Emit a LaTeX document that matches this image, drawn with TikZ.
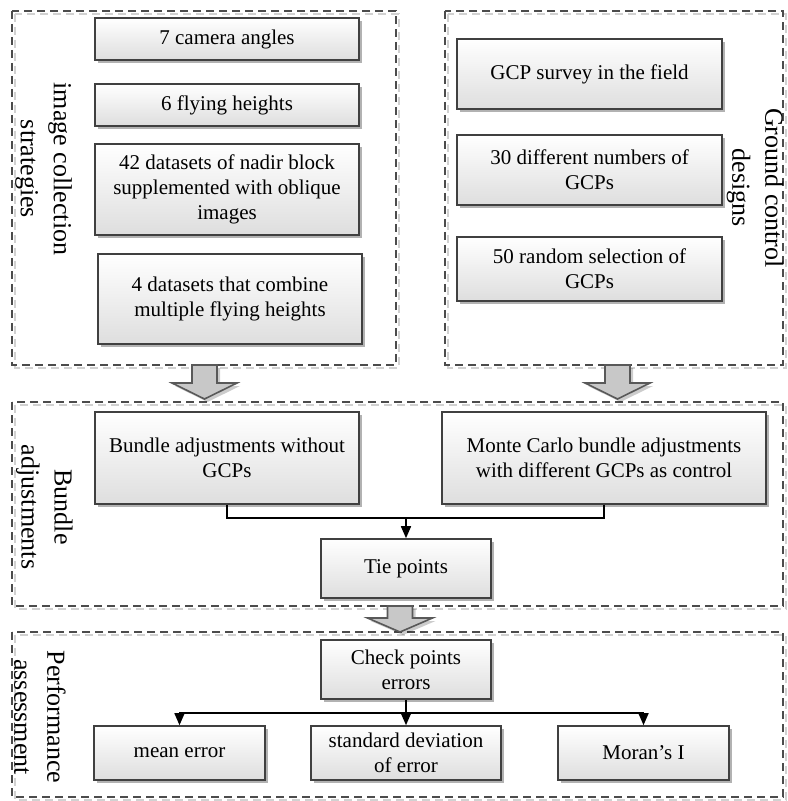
\documentclass[tikz,border=0pt]{standalone}
\usepackage{fontspec}
\setmainfont{Liberation Serif}
\usepackage{tikz}
\usetikzlibrary{arrows.meta,shadows}
\colorlet{boxedge}{black!75}
\colorlet{boxbottom}{black!13}
\colorlet{groupedge}{black!70}
\colorlet{groupghost}{black!18}
\definecolor{arrowfill}{RGB}{200,200,200}
\colorlet{arrowedge}{black!65}
\tikzset{
  flowbox/.style={draw=boxedge,line width=0.8pt,top color=white,bottom color=boxbottom,
    drop shadow={shadow xshift=1.5pt,shadow yshift=-1.5pt,fill=black,opacity=0.3},
    align=center,inner sep=0pt,font=\fontsize{10.5}{12.5}\selectfont},
  groupframe/.style={draw=groupedge,line width=0.8pt,dash pattern=on 4pt off 2.5pt},
  groupshade/.style={draw=groupghost,line width=0.8pt,dash pattern=on 4pt off 2.5pt},
  grouptitle/.style={rotate=-90,align=center,inner sep=0pt,font=\fontsize{13}{16.5}\selectfont},
  fatarrow/.style={fill=arrowfill,draw=arrowedge,line width=0.8pt,
    drop shadow={shadow xshift=1.5pt,shadow yshift=-1.5pt,fill=black,opacity=0.2}},
  link/.style={draw=black,line width=0.8pt},
  linktip/.style={-{Triangle[width=5pt,length=6pt]}},
}

\begin{document}
\begin{tikzpicture}[x=0.5pt,y=-0.5pt]
\useasboundingbox (0,0) rectangle (787,801);
\foreach \xa/\ya/\xb/\yb in {12/11/396/365, 445/11/783/365, 12/402/783/606, 12/632/783/797}
{
  \draw[groupshade] (\xa+3,\ya+3) rectangle (\xb+3,\yb+3);
  \draw[groupframe] (\xa,\ya) rectangle (\xb,\yb);
}
\foreach \ax/\at/\an/\ap in {204.5/365/383/399, 617.5/365/383/399, 400/606/618/632}
{
  \path[fatarrow] (\ax-12.5,\at) -- (\ax+12.5,\at) -- (\ax+12.5,\an) -- (\ax+32.5,\an)
    -- (\ax,\ap) -- (\ax-32.5,\an) -- (\ax-12.5,\an) -- cycle;
}

\node[grouptitle] (imgtitle) at (43.5,169) {image collection\\strategies};
\node[flowbox,minimum width=132pt,minimum height=21pt] (angles) at (227,39) {7 camera angles};
\node[flowbox,minimum width=132pt,minimum height=21pt] (heights) at (227,105) {6 flying heights};
\node[flowbox,minimum width=132pt,minimum height=45.5pt] (nadir) at (227,189.5) {42 datasets of nadir block\\supplemented with oblique\\images};
\node[flowbox,minimum width=132pt,minimum height=45pt] (combine) at (230,299) {4 datasets that combine\\multiple flying heights};

\node[grouptitle] (gcptitle) at (755,188) {Ground control\\designs};
\node[flowbox,minimum width=132.5pt,minimum height=35pt] (survey) at (589.5,74) {GCP survey in the field};
\node[flowbox,minimum width=132.5pt,minimum height=35pt] (numbers) at (589.5,170) {30 different numbers of\\GCPs};
\node[flowbox,minimum width=132.5pt,minimum height=32pt] (random) at (589.5,269) {50 random selection of\\GCPs};

\node[grouptitle] (batitle) at (44.5,507) {Bundle\\adjustments};
\node[flowbox,minimum width=132pt,minimum height=46pt] (nogcp) at (227,458) {Bundle adjustments without\\GCPs};
\node[flowbox,minimum width=162pt,minimum height=46pt] (monte) at (604,458) {Monte Carlo bundle adjustments\\with different GCPs as control};
\node[flowbox,minimum width=85pt,minimum height=29.5pt] (tie) at (406,568.5) {Tie points};

\node[grouptitle] (patitle) at (40,717) {Performance\\assessment};
\node[flowbox,minimum width=85pt,minimum height=29.5pt] (check) at (406,669.5) {Check points\\errors};
\node[flowbox,minimum width=85.5pt,minimum height=27pt] (mean) at (179.5,753) {mean error};
\node[flowbox,minimum width=95pt,minimum height=27pt] (sdev) at (406,753) {standard deviation\\of error};
\node[flowbox,minimum width=85.5pt,minimum height=27pt] (moran) at (643.5,753) {Moran’s I};

\coordinate (merge) at (406,518);
\draw[link] (nogcp.south) |- (merge);
\draw[link] (monte.south) |- (merge);
\draw[link,linktip] (merge) -- (tie.north);
\coordinate (split) at (406,713);
\draw[link] (check.south) -- (split);
\foreach \b in {mean,sdev,moran}
  \draw[link,linktip] (split) -| (\b.north);
\end{tikzpicture}
\end{document}
